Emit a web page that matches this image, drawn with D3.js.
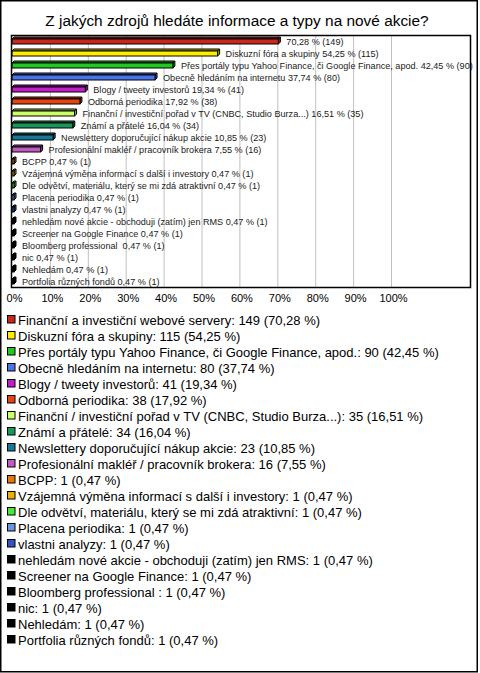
<!DOCTYPE html>
<html><head><meta charset="utf-8">
<script src="https://cdn.jsdelivr.net/npm/d3@7"></script>
<style>
html,body{margin:0;padding:0;background:#fff;}
text{font-family:"Liberation Sans",Arial,sans-serif;white-space:pre;}
</style></head>
<body>
<svg id="chart" width="480" height="673"></svg>
<script>
const title = "Z jakých zdrojů hledáte informace a typy na nové akcie?";
const categories = [
  "Finanční a investiční webové servery",
  "Diskuzní fóra a skupiny",
  "Přes portály typu Yahoo Finance, či Google Finance, apod.",
  "Obecně hledáním na internetu",
  "Blogy / tweety investorů",
  "Odborná periodika",
  "Finanční / investiční pořad v TV (CNBC, Studio Burza...)",
  "Známí a přátelé",
  "Newslettery doporučující nákup akcie",
  "Profesionální makléř / pracovník brokera",
  "BCPP",
  "Vzájemná výměna informací s další i investory",
  "Dle odvětví, materiálu, který se mi zdá atraktivní",
  "Placena periodika",
  "vlastni analyzy",
  "nehledám nové akcie - obchoduji (zatím) jen RMS",
  "Screener na Google Finance",
  "Bloomberg professional ",
  "nic",
  "Nehledám",
  "Portfolia různých fondů"
];
const counts = [149,115,90,80,41,38,35,34,23,16,1,1,1,1,1,1,1,1,1,1,1];
const percents = [70.28,54.25,42.45,37.74,19.34,17.92,16.51,16.04,10.85,7.55,0.47,0.47,0.47,0.47,0.47,0.47,0.47,0.47,0.47,0.47,0.47];
const tickValues = [0,10,20,30,40,50,60,70,80,90,100];
const palette = ["#c8281c","#ffee00","#22c822","#4a74e8","#c41ccc","#e84412","#ccff66","#18965e","#1a7896","#c05cc0","#e8780c","#e8b408","#48e838","#6c94e0","#3054c0","#000000","#000000","#000000","#000000","#000000","#000000"];

const fmt = v => v.toFixed(2).replace(".", ",");
const svg = d3.select("#chart");

// outer border
svg.append("rect").attr("x",0.75).attr("y",0.75).attr("width",476.5).attr("height",671)
  .attr("fill","#fff").attr("stroke","#000").attr("stroke-width",1.5);

// title
svg.append("text").attr("x",237).attr("y",26).attr("text-anchor","middle")
  .attr("font-size",15.4).attr("fill","#000").text(title);

const plot = {l:11, t:35, r:470, b:287};
const x = d3.scaleLinear().domain([0,100]).range([12,391]);
const y = d3.scaleBand().domain(d3.range(categories.length)).range([plot.t, plot.b]);

svg.append("rect").attr("x",plot.l).attr("y",plot.t).attr("width",plot.r-plot.l).attr("height",plot.b-plot.t)
  .attr("fill","#fff");

// gridlines
svg.append("g").selectAll("line").data(tickValues.slice(1)).join("line")
  .attr("x1",d=>x(d)+0.5).attr("x2",d=>x(d)+0.5).attr("y1",plot.t).attr("y2",plot.b)
  .attr("stroke","#c0c0c0").attr("stroke-width",1);

// axis labels
const axis = d3.axisBottom(x).tickValues(tickValues).tickFormat(d=>d+"%").tickSize(0).tickPadding(0);
const ag = svg.append("g").attr("transform",`translate(2,${plot.b+7})`).call(axis);
ag.select(".domain").remove();
ag.selectAll("text").attr("font-size",11).attr("fill","#000")
  .attr("font-family","'Liberation Sans',Arial,sans-serif");

// 3D bars
const depth = 2, bh = 5;
const bars = svg.append("g");
categories.forEach((c,i)=>{
  const cy = y(i) + y.bandwidth()/2;
  const x0 = x(0), x1 = Math.max(x(percents[i]), x0+2);
  const top = cy - bh/2 + 0.5;
  const col = palette[i];
  const dark = d3.color(col).darker(0.8);
  const g = bars.append("g");
  g.append("path").attr("d",`M${x0},${top} L${x0+depth},${top-depth} L${x1+depth},${top-depth} L${x1},${top} Z`)
    .attr("fill",dark).attr("stroke","#000").attr("stroke-width",1);
  g.append("path").attr("d",`M${x1},${top} L${x1+depth},${top-depth} L${x1+depth},${top-depth+bh} L${x1},${top+bh} Z`)
    .attr("fill",dark).attr("stroke","#000").attr("stroke-width",1);
  g.append("rect").attr("x",x0).attr("y",top).attr("width",x1-x0).attr("height",bh)
    .attr("fill",col).attr("stroke","#000").attr("stroke-width",1);
  const lbl = (i===0 ? "" : c + " ") + fmt(percents[i]) + " % (" + counts[i] + ")";
  svg.append("text").attr("x",x1+depth+6).attr("y",cy+3.5)
    .attr("font-size",9.1).attr("fill","#1a1a1a").text(lbl);
});

// plot frame
svg.append("rect").attr("x",plot.l+0.5).attr("y",plot.t+0.5).attr("width",plot.r-plot.l).attr("height",plot.b-plot.t)
  .attr("fill","none").attr("stroke","#000").attr("stroke-width",1.5);

// legend
const lg = svg.append("g");
categories.forEach((c,i)=>{
  const cy = 320 + 16*i;
  lg.append("rect").attr("x",7.5).attr("y",cy-4.5).attr("width",7.5).attr("height",7.5)
    .attr("fill",palette[i]).attr("stroke","#000").attr("stroke-width",1);
  lg.append("text").attr("x",18).attr("y",cy+4.5).attr("font-size",13).attr("fill","#000")
    .text(c + ": " + counts[i] + " (" + fmt(percents[i]) + " %)");
});
</script>
</body></html>
